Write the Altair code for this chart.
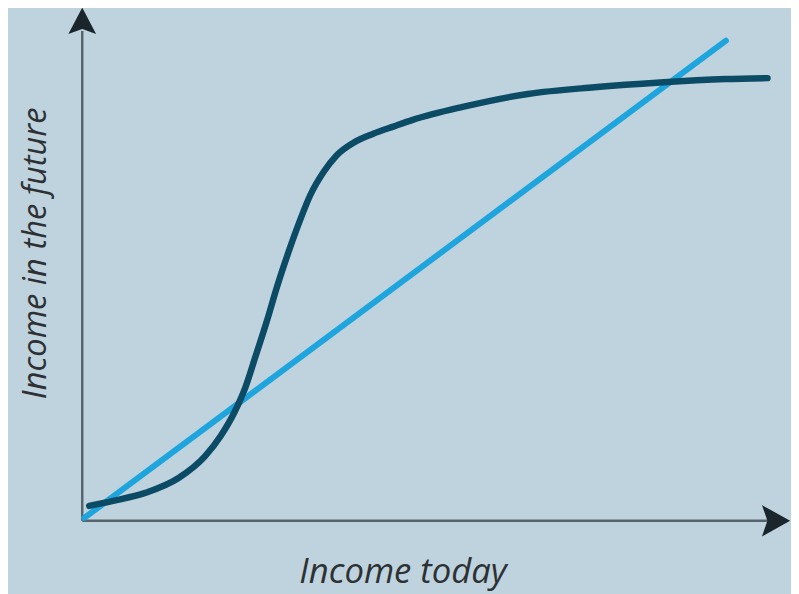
import altair as alt
import pandas as pd

# Dark S-curve: income today (x) vs income in the future (y), in 0-100 units
curve_x = [1.0, 4.3, 9.1, 13.9, 17.7, 20.0, 22.0, 23.6, 25.0, 26.6, 28.1, 29.7, 31.3,
           32.9, 34.9, 36.7, 39.1, 42.0, 44.9, 47.7, 54.9, 64.3, 73.9, 83.4, 92.9, 98.9]
curve_y = [3.1, 4.1, 5.8, 8.9, 13.4, 17.7, 22.7, 28.0, 34.2, 41.4, 48.7, 55.7, 62.1,
           67.8, 72.8, 76.1, 78.7, 80.6, 82.1, 83.5, 86.2, 88.9, 90.3, 91.3, 92.0, 92.2]

# straight line
line_x = [0.3, 92.9]
line_y = [0.6, 100.0]

# axes (with arrow heads)
axis_x = [0, 0]
axis_y = [0, 0]
axis_x2 = [100, 0]
axis_y2 = [0, 102]

x_title = "Income today"
y_title = "Income in the future"

BG = "#bed3de"
LIGHT = "#1ea5dd"
DARK = "#0c4b66"
AXIS = "#56656d"
ARROW = "#1b262c"
TEXT = "#2e3134"

xs = alt.Scale(domain=[-10.714, 102.286], nice=False, zero=False)
ys = alt.Scale(domain=[-14.639, 106.186], nice=False, zero=False)

curve_df = pd.DataFrame({"x": curve_x, "y": curve_y, "o": range(len(curve_x))})
line_df = pd.DataFrame({"x": line_x, "y": line_y})
axes_df = pd.DataFrame({"x": axis_x, "y": axis_y, "x2": axis_x2, "y2": axis_y2})
up_df = pd.DataFrame({"x": [0], "y": [104.0]})
right_df = pd.DataFrame({"x": [99.9], "y": [0]})
xt_df = pd.DataFrame({"x": [46.3], "y": [-10.6], "t": [x_title]})
yt_df = pd.DataFrame({"x": [-6.7], "y": [55.7], "t": [y_title]})

X = lambda f="x": alt.X(f"{f}:Q", scale=xs, axis=None)
Y = lambda f="y": alt.Y(f"{f}:Q", scale=ys, axis=None)

axes = alt.Chart(axes_df).mark_rule(color=AXIS, strokeWidth=2.5).encode(
    x=X(), y=Y(), x2="x2:Q", y2="y2:Q")

up_arrow = alt.Chart(up_df).mark_point(
    shape="M0,-1L1,0.9L0,0.55L-1,0.9Z", filled=True, size=784, color=ARROW, opacity=1
).encode(x=X(), y=Y())

right_arrow = alt.Chart(right_df).mark_point(
    shape="M1,0L-0.8,1L-0.45,0L-0.8,-1Z", filled=True, size=1000, color=ARROW, opacity=1
).encode(x=X(), y=Y())

light = alt.Chart(line_df).mark_line(color=LIGHT, strokeWidth=6, strokeCap="round").encode(
    x=X(), y=Y())

dark = alt.Chart(curve_df).mark_line(color=DARK, strokeWidth=6.5, strokeCap="round",
                                     interpolate="monotone").encode(
    x=X(), y=Y(), order="o:Q")

xt = alt.Chart(xt_df).mark_text(font="Open Sans", fontStyle="italic", fontSize=35,
                                color=TEXT, baseline="middle", align="center").encode(
    x=X(), y=Y(), text="t:N")

yt = alt.Chart(yt_df).mark_text(font="Open Sans", fontStyle="italic", fontSize=33,
                                color=TEXT, baseline="middle", align="center", angle=270).encode(
    x=X(), y=Y(), text="t:N")

chart = alt.layer(axes, up_arrow, right_arrow, light, dark, xt, yt).properties(
    width=791, height=586,
    autosize=alt.AutoSizeParams(type="none"),
    padding=0,
    background=BG,
).configure_view(stroke=None, fill=BG)

chart.save("out.html", embed_options={"renderer": "svg", "actions": False})
